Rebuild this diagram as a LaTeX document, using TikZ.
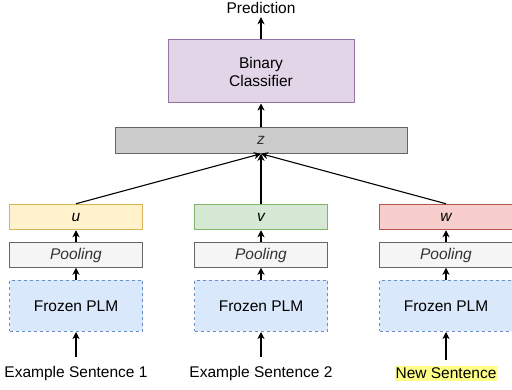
\documentclass[tikz,border=0pt]{standalone}
\usepackage{fontspec}
\setmainfont{Liberation Sans}
\usetikzlibrary{arrows.meta}

\definecolor{plmfill}{HTML}{DAE8FC}
\definecolor{plmline}{HTML}{6C8EBF}
\definecolor{poolfill}{HTML}{F5F5F5}
\definecolor{poolline}{HTML}{666666}
\definecolor{ufill}{HTML}{FFF2CC}
\definecolor{uline}{HTML}{D6B656}
\definecolor{vfill}{HTML}{D5E8D4}
\definecolor{vline}{HTML}{82B366}
\definecolor{wfill}{HTML}{F8CECC}
\definecolor{wline}{HTML}{B85450}
\definecolor{zfill}{HTML}{CCCCCC}
\definecolor{clsfill}{HTML}{E1D5E7}
\definecolor{clsline}{HTML}{9673A6}
\definecolor{marker}{HTML}{FFFF88}

\begin{document}
\begin{tikzpicture}[x=1pt, y=-1pt,
	font=\fontsize{15.5}{18}\selectfont,
	box/.style={draw, rectangle, line width=1pt, minimum width=133pt, inner sep=0pt},
	plm/.style={box, draw=plmline, fill=plmfill, dash pattern=on 3pt off 3pt, minimum height=51pt},
	pool/.style={box, draw=poolline, fill=poolfill, minimum height=24.5pt, font=\fontsize{15.5}{18}\selectfont\itshape, text=black!80},
	vec/.style={box, minimum height=25.5pt, font=\fontsize{15.5}{18}\selectfont\itshape},
	arr/.style={-{Stealth[length=7pt, width=7pt, inset=2pt]}, line width=1.1pt}]
	\useasboundingbox (0,0) rectangle (512,390);

	% Column 1: Example Sentence 1
	\node (sent1) at (76,373.5) {Example Sentence 1};
	\node[plm] (plm1) at (76,306) {Frozen PLM};
	\node[pool] (pool1) at (76,255) {Pooling};
	\node[vec, draw=uline, fill=ufill] (u) at (76,217) {u};

	% Column 2: Example Sentence 2
	\node (sent2) at (261,373.5) {Example Sentence 2};
	\node[plm] (plm2) at (261,306) {Frozen PLM};
	\node[pool] (pool2) at (261,255) {Pooling};
	\node[vec, draw=vline, fill=vfill] (v) at (261,217) {v};

	% Column 3: New Sentence
	\node[fill=marker, inner xsep=1pt, inner ysep=2pt] (sent3) at (446,373.5) {New Sentence};
	\node[plm] (plm3) at (446,306) {Frozen PLM};
	\node[pool] (pool3) at (446,255) {Pooling};
	\node[vec, draw=wline, fill=wfill] (w) at (446,217) {w};

	% Combination and classifier
	\node[box, draw=poolline, fill=zfill, minimum width=292pt, minimum height=25.5pt, font=\fontsize{15.5}{18}\selectfont\itshape, text=black!80] (z) at (261,140.5) {z};
	\node[box, draw=clsline, fill=clsfill, minimum width=186pt, minimum height=63pt, align=center] (cls) at (261,71.5) {Binary\\Classifier};
	\node (pred) at (261,8) {Prediction};

	% Arrows
	\draw[arr, shorten <=6pt] (sent1) -- (plm1);
	\draw[arr] (plm1) -- (pool1);
	\draw[arr] (pool1) -- (u);
	\draw[arr, shorten <=6pt] (sent2) -- (plm2);
	\draw[arr] (plm2) -- (pool2);
	\draw[arr] (pool2) -- (v);
	\draw[arr, shorten <=6pt] (sent3) -- (plm3);
	\draw[arr] (plm3) -- (pool3);
	\draw[arr] (pool3) -- (w);
	\draw[arr] (u.north) -- (z.south);
	\draw[arr] (v.north) -- (z.south);
	\draw[arr] (w.north) -- (z.south);
	\draw[arr] (z) -- (cls);
	\draw[arr] (cls) -- (pred);
\end{tikzpicture}
\end{document}
